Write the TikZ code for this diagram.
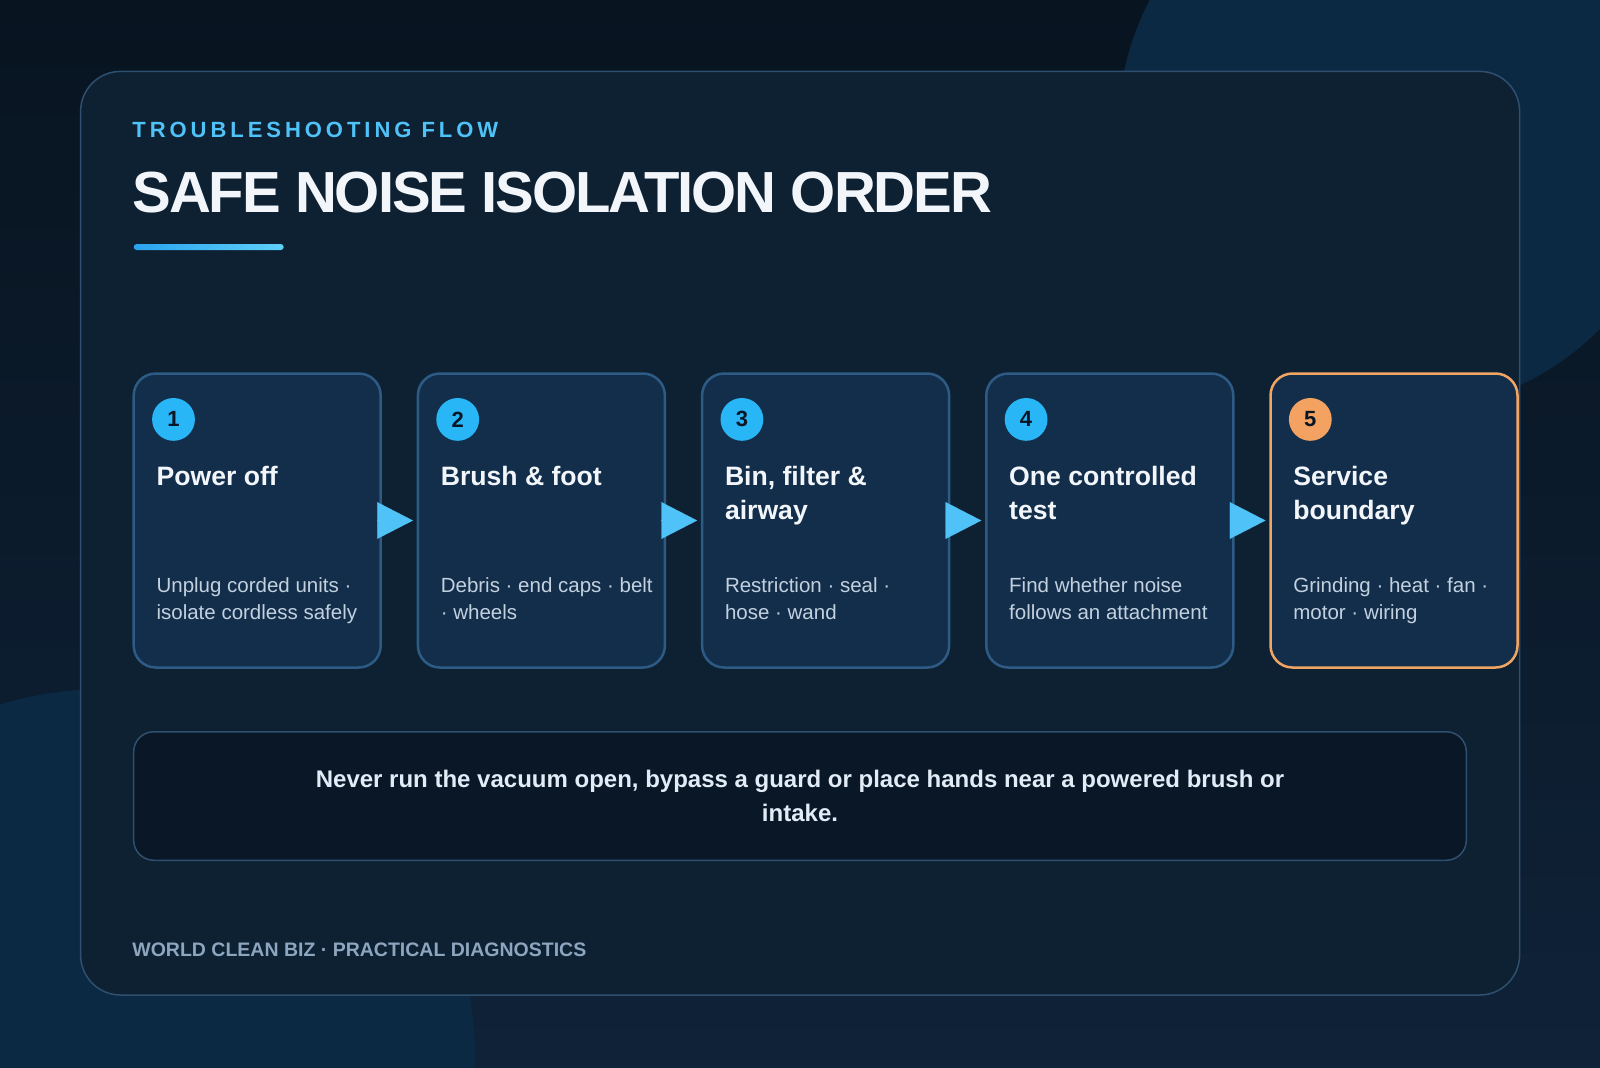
\documentclass[tikz,border=0pt]{standalone}
\usepackage{fontspec}
\setmainfont{Liberation Sans}
\usepackage{tikz}
\usetikzlibrary{positioning,arrows.meta,calc}

\definecolor{bgtop}{HTML}{081420}
\definecolor{bgbot}{HTML}{0F2238}
\definecolor{blob}{HTML}{0C2944}
\definecolor{cardfill}{HTML}{0E2133}
\definecolor{cardline}{HTML}{2E4F6E}
\definecolor{boxfill}{HTML}{132E4B}
\definecolor{boxline}{HTML}{2D5B85}
\definecolor{accent}{HTML}{F0A565}
\definecolor{badgeblue}{HTML}{29B6F6}
\definecolor{badgeorange}{HTML}{F4A261}
\definecolor{numtext}{HTML}{0A1626}
\definecolor{skyblue}{HTML}{4FC3F7}
\definecolor{headtext}{HTML}{F2F6FA}
\definecolor{desctext}{HTML}{C3D1DF}
\definecolor{warnfill}{HTML}{091726}
\definecolor{warntext}{HTML}{E2ECF7}
\definecolor{foottext}{HTML}{8DA6BF}
\definecolor{barleft}{HTML}{2AA3EF}
\definecolor{barright}{HTML}{5ED0F8}

\tikzset{
  card/.style={rectangle,draw=cardline,fill=cardfill,line width=0.75pt,rounded corners=20pt,minimum width=719.5pt,minimum height=461.8pt,anchor=north west,inner sep=0pt,outer sep=0pt},
  kicker/.style={anchor=base west,inner sep=0pt,text=skyblue,font=\bfseries\fontsize{11}{13}\selectfont\addfontfeature{LetterSpace=18}},
  headline/.style={anchor=base west,inner sep=0pt,text=headtext,font=\bfseries\fontsize{29}{35}\selectfont\addfontfeature{LetterSpace=-3.5}},
  stepbox/.style={rectangle,draw=boxline,fill=boxfill,line width=1.25pt,rounded corners=11pt,minimum width=123.5pt,minimum height=147pt,inner sep=0pt,outer sep=0pt},
  lastbox/.style={stepbox,draw=accent},
  badge/.style={circle,fill=badgeblue,minimum size=21.4pt,inner sep=0pt,text=numtext,font=\bfseries\fontsize{11}{12}\selectfont},
  lastbadge/.style={badge,fill=badgeorange},
  steptitle/.style={anchor=north west,align=left,inner sep=0pt,text=headtext,font=\bfseries\fontsize{13.3}{16.85}\selectfont},
  stepdesc/.style={anchor=north west,align=left,inner sep=0pt,text=desctext,font=\fontsize{10.25}{13.75}\selectfont},
  flow/.style={-{Triangle[length=17.85pt,width=18.35pt]},draw=skyblue,line width=0.1pt,shorten >=2.5pt},
  warnbox/.style={rectangle,draw=cardline,fill=warnfill,line width=0.75pt,rounded corners=10pt,minimum width=666.3pt,minimum height=64.25pt,align=center,inner sep=0pt,text=warntext,font=\bfseries\fontsize{12}{16.9}\selectfont},
  footer/.style={anchor=base west,inner sep=0pt,text=foottext,font=\bfseries\fontsize{9.75}{12}\selectfont}
}

\begin{document}
\begin{tikzpicture}[x=0.5pt,y=-0.5pt,node distance=18.6pt]
  \useasboundingbox (0,0) rectangle (1600,1067);

  % backdrop
  \begin{scope}
    \clip (0,0) rectangle (1600,1067);
    \shade[top color=bgtop,bottom color=bgbot] (0,0) rectangle (1600,1067);
    \fill[blob] (1400,130) circle[radius=141pt];
    \fill[blob] (106,1058) circle[radius=184.5pt];
  \end{scope}

  % card and heading
  \node[card] (card) at (80.6,71.4) {};
  \node[kicker] (kicker) at (132,137.8) {TROUBLESHOOTING FLOW};
  \node[headline] (headline) at (132,212) {SAFE NOISE ISOLATION ORDER};
  \shade[left color=barleft,right color=barright,rounded corners=1.5pt] (133.7,244) rectangle (283.7,250);

  % steps
  \node[stepbox,anchor=north west] (s1) at (133.7,373.5) {};
  \node[stepbox,right=of s1] (s2) {};
  \node[stepbox,right=of s2] (s3) {};
  \node[stepbox,right=of s3] (s4) {};
  \node[lastbox,right=of s4] (s5) {};

  \node[badge] (n1) at ($(s1.north west)+(39.8,45.9)$) {1};
  \node[badge] (n2) at ($(s2.north west)+(39.8,45.9)$) {2};
  \node[badge] (n3) at ($(s3.north west)+(39.8,45.9)$) {3};
  \node[badge] (n4) at ($(s4.north west)+(39.8,45.9)$) {4};
  \node[lastbadge] (n5) at ($(s5.north west)+(39.8,45.9)$) {5};

  \node[steptitle] (t1) at ($(s1.north west)+(22.5,92.8)$) {Power off};
  \node[steptitle] (t2) at ($(s2.north west)+(22.5,92.8)$) {Brush \& foot};
  \node[steptitle] (t3) at ($(s3.north west)+(22.5,92.8)$) {Bin, filter \&\\airway};
  \node[steptitle] (t4) at ($(s4.north west)+(22.5,92.8)$) {One controlled\\test};
  \node[steptitle] (t5) at ($(s5.north west)+(22.5,92.8)$) {Service\\boundary};

  \node[stepdesc] (d1) at ($(s1.north west)+(22.5,203.3)$) {Unplug corded units ·\\isolate cordless safely};
  \node[stepdesc] (d2) at ($(s2.north west)+(22.5,203.3)$) {Debris · end caps · belt\\· wheels};
  \node[stepdesc] (d3) at ($(s3.north west)+(22.5,203.3)$) {Restriction · seal ·\\hose · wand};
  \node[stepdesc] (d4) at ($(s4.north west)+(22.5,203.3)$) {Find whether noise\\follows an attachment};
  \node[stepdesc] (d5) at ($(s5.north west)+(22.5,203.3)$) {Grinding · heat · fan ·\\motor · wiring};

  \draw[flow] (s1) -- (s2);
  \draw[flow] (s2) -- (s3);
  \draw[flow] (s3) -- (s4);
  \draw[flow] (s4) -- (s5);

  % warning and footer
  \node[warnbox] (warn) at (800,796) {Never run the vacuum open, bypass a guard or place hands near a powered brush or\\intake.};
  \node[footer] (footer) at (132,956) {WORLD CLEAN BIZ · PRACTICAL DIAGNOSTICS};
\end{tikzpicture}
\end{document}
